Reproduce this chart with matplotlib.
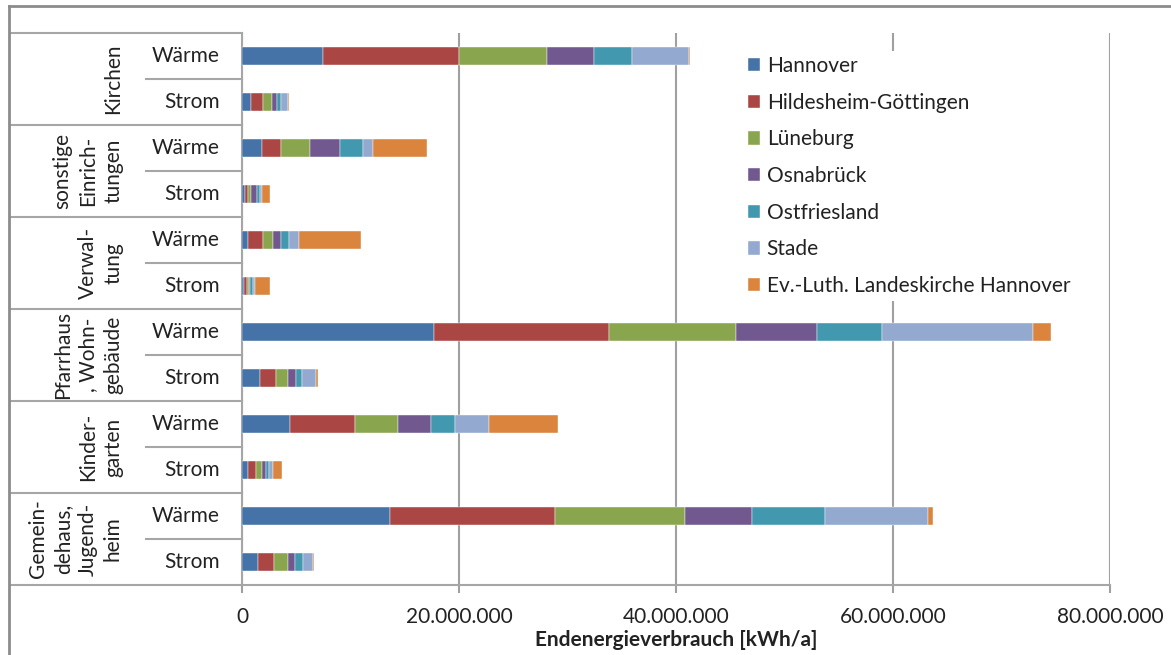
import matplotlib
matplotlib.use("Agg")
import matplotlib.pyplot as plt
from matplotlib.lines import Line2D
from matplotlib.transforms import blended_transform_factory
from matplotlib.ticker import FuncFormatter
import numpy as np

# ---- data (values in kWh/a, in millions) ----
groups = ["Kirchen", "sonstige\nEinrich-\ntungen", "Verwal-\ntung",
          "Pfarrhaus\n, Wohn-\ngebäude", "Kinder-\ngarten",
          "Gemein-\ndehaus,\nJugend-\nheim"]
subcats = ["Wärme", "Strom"]
series_names = ["Hannover", "Hildesheim-Göttingen", "Lüneburg", "Osnabrück",
                "Ostfriesland", "Stade", "Ev.-Luth. Landeskirche Hannover"]
hannover = [7.5, 0.8, 1.85, 0.3, 0.58, 0.18, 17.7, 1.62, 4.45, 0.58, 13.64, 1.44]
hildesheim = [12.5, 1.15, 1.78, 0.28, 1.38, 0.31, 16.1, 1.54, 5.93, 0.74, 15.24, 1.54]
lueneburg = [8.1, 0.82, 2.61, 0.28, 0.92, 0.16, 11.77, 1.08, 3.96, 0.52, 11.98, 1.26]
osnabrueck = [4.3, 0.43, 2.83, 0.55, 0.74, 0.11, 7.44, 0.74, 3.04, 0.40, 6.17, 0.64]
ostfriesland = [3.5, 0.43, 2.06, 0.21, 0.74, 0.22, 6.0, 0.51, 2.22, 0.25, 6.67, 0.74]
stade = [5.3, 0.58, 0.95, 0.18, 0.92, 0.25, 13.9, 1.36, 3.19, 0.39, 9.49, 0.89]
evluth = [0.1, 0.13, 5.0, 0.74, 5.72, 1.31, 1.66, 0.12, 6.3, 0.83, 0.5, 0.13]
xticks = [0, 20e6, 40e6, 60e6, 80e6]

colors = ["#4572A7", "#AA4643", "#89A54E", "#71588F", "#4198AF", "#93A9CF", "#DB843D"]
series = [hannover, hildesheim, lueneburg, osnabrueck, ostfriesland, stade, evluth]

plt.rcParams['font.family'] = ['Lato', 'DejaVu Sans']
FS = 15
W, H = 1171, 655
fig = plt.figure(figsize=(W / 100, H / 100), dpi=100)
ax = fig.add_axes([242 / W, 1 - 585 / H, (1110 - 242) / W, (585 - 33) / H])

n = len(hannover)
y = np.arange(n)
left = np.zeros(n)
for name, vals, c in zip(series_names, series, colors):
    v = np.array(vals) * 1e6
    ax.barh(y, v, left=left, height=0.39, color=c, label=name, zorder=3,
            edgecolor='white', linewidth=0.3)
    left += v

ax.set_ylim(n - 0.5, -0.5)
ax.set_xlim(0, 80e6)
ax.set_xticks(xticks)
ax.xaxis.set_major_formatter(FuncFormatter(lambda v, p: f"{int(v):,}".replace(",", ".")))
ax.tick_params(axis='x', length=6, width=1.5, color='#a0a0a0', labelsize=FS, pad=10,
               labelcolor='#222222')
ax.set_yticks([])
ax.grid(axis='x', color='#a0a0a0', linewidth=1.5, zorder=0)
for s in ['top', 'right']:
    ax.spines[s].set_visible(False)
for s in ['left', 'bottom']:
    ax.spines[s].set_color('#a6a6a6')
    ax.spines[s].set_linewidth(1.5)
ax.set_xlabel("Endenergieverbrauch [kWh/a]", fontsize=FS, fontweight='bold',
              color='#222222', labelpad=2)

# ---- category table on the left ----
tr = blended_transform_factory(fig.transFigure, ax.transData)
gc = '#a6a6a6'
for g in range(len(groups) + 1):
    yy = g * 2 - 0.5
    ax.add_line(Line2D([10 / W, 242 / W], [yy, yy], transform=tr, color=gc,
                       lw=1.5, clip_on=False))
for g in range(len(groups)):
    yy = g * 2 + 0.5
    ax.add_line(Line2D([146 / W, 242 / W], [yy, yy], transform=tr, color=gc,
                       lw=1.5, clip_on=False))
    ax.text(123 / W, g * 2 + 0.5, groups[g], transform=tr, rotation=90,
            ha='right', va='center', multialignment='center', fontsize=FS,
            color='#222222', linespacing=1.32)
for i in range(n):
    ax.text(220 / W, i, subcats[i % 2], transform=tr, ha='right', va='center',
            fontsize=FS, color='#222222')

# outer border
fig.add_artist(Line2D([8.5 / W, 8.5 / W], [0, 1 - 6 / H], transform=fig.transFigure,
                      color='#8c8c8c', lw=2))
fig.add_artist(Line2D([8.5 / W, 1], [1 - 6 / H, 1 - 6 / H], transform=fig.transFigure,
                      color='#8c8c8c', lw=2))

leg = ax.legend(loc='upper left', bbox_to_anchor=(733 / W, 1 - 41 / H),
                bbox_transform=fig.transFigure, frameon=True, fontsize=FS,
                handlelength=0.6, handleheight=0.6, handletextpad=0.3,
                labelspacing=0.8, borderpad=0.22, fancybox=False)
leg.get_frame().set_facecolor('white')
leg.get_frame().set_edgecolor('none')
leg.get_frame().set_alpha(1)
leg.set_zorder(5)
for t in leg.get_texts():
    t.set_color('#222222')

fig.savefig("out.png", dpi=100)
